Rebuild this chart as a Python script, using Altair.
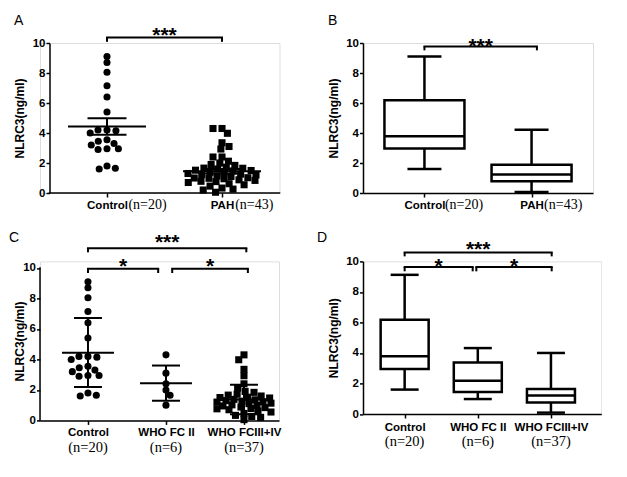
import math
import altair as alt
import pandas as pd

# ---------------- data ----------------
groups_ab = ["Control", "PAH"]
n_ab = ["(n=20)", "(n=43)"]
groups_cd = ["Control", "WHO FC II", "WHO FCIII+IV"]
n_cd = ["(n=20)", "(n=6)", "(n=37)"]

control_vals = [9.1, 8.7, 8.05, 7.15, 6.4, 5.4, 4.2, 4.15, 4.2, 4.0,
                3.55, 3.45, 3.2, 3.3, 2.95, 2.9, 2.95, 1.8, 1.6, 1.65]
fc2_vals = [4.3, 3.1, 2.4, 2.0, 1.65, 1.0]
fc34_vals = [4.3, 3.98, 3.35, 2.93, 2.4, 2.12, 1.9, 1.84, 1.72, 1.66, 1.6, 1.52,
             1.5, 1.47, 1.38, 1.35, 1.3, 1.26, 1.22, 1.2, 1.13, 1.1, 1.02, 0.98,
             0.95, 0.88, 0.84, 0.78, 0.76, 0.7, 0.62, 0.55, 0.46, 0.33, 0.26, 0.2, 0.05]
pah_vals = fc2_vals + fc34_vals

# panel A: mean +/- SEM
mean_a = [4.44, 1.45]
err_lo_a = [3.89, 1.30]
err_hi_a = [4.98, 1.60]
# panel C: mean +/- SD
mean_c = [4.44, 2.43, 1.37]
err_lo_c = [2.19, 1.29, 0.40]
err_hi_c = [6.72, 3.60, 2.34]

# panel B box plot (min, Q1, median, Q3, max)
b_min = [1.60, 0.07]
b_q1 = [2.96, 0.78]
b_med = [3.78, 1.24]
b_q3 = [6.18, 1.89]
b_max = [9.10, 4.22]
# panel D box plot
d_min = [1.60, 0.98, 0.09]
d_q1 = [2.95, 1.44, 0.76]
d_med = [3.78, 2.18, 1.22]
d_q3 = [6.18, 3.38, 1.64]
d_max = [9.12, 4.32, 4.00]

# significance brackets (group positions, bracket level in data units, label)
sig_a = {"x1": [1], "x2": [2], "level": [10.37], "foot": [10.08], "label": ["***"], "label_y": [10.09]}
sig_b = {"x1": [1], "x2": [2.05], "level": [9.77], "foot": [9.51], "label": ["***"], "label_y": [9.31]}
sig_c = {"x1": [1, 1, 2.08], "x2": [3.03, 1.9, 3.05], "level": [11.3, 9.95, 9.95],
         "foot": [11.03, 9.67, 9.67], "label": ["***", "*", "*"], "label_y": [11.25, 9.65, 9.65]}
sig_d = {"x1": [1, 1, 1.98], "x2": [3.01, 1.93, 3.01], "level": [10.59, 9.63, 9.63],
         "foot": [10.33, 9.35, 9.35], "label": ["***", "*", "*"], "label_y": [10.36, 9.21, 9.21]}

SANS = "Liberation Sans"
SERIF = "Liberation Serif"
BOLD_EM = {"C": .722, "o": .611, "n": .611, "t": .333, "r": .389, "l": .278,
           "P": .667, "A": .722, "H": .722, " ": .278}


def text_w(s, fs):
    return sum(BOLD_EM.get(c, 0.6) for c in s) * fs


def swarm(values, ppu, dxs, dys, maxw):
    """greedy beeswarm (px) with an elliptical collision zone and a maximum half width"""
    order = sorted(range(len(values)), key=lambda i: -values[i])
    placed = []
    out = [0.0] * len(values)
    for k, i in enumerate(order):
        y = values[i] * ppu
        near = [(py, px) for (py, px) in placed if abs(py - y) < dys]
        blocked = []
        for (py, px) in near:
            w = dxs * math.sqrt(1 - ((py - y) / dys) ** 2)
            blocked.append((px - w, px + w))
        cands = [0.0] + [a for a, b in blocked] + [b for a, b in blocked]
        sgn = 1 if k % 2 == 0 else -1
        cands.sort(key=lambda c: (round(abs(c), 6), -sgn * c))
        x = None
        for c in cands:
            if abs(c) <= maxw and all(not (a + 1e-6 < c < b - 1e-6) for a, b in blocked):
                x = c
                break
        if x is None:
            best, x = -1.0, 0.0
            steps = int(maxw * 2)
            for j in range(steps + 1):
                c = -maxw + j * (2 * maxw / steps)
                sc = min(math.hypot((c - px) / dxs, (py - y) / dys) for (py, px) in near)
                if sc > best + 1e-9:
                    best, x = sc, c
        placed.append((y, x))
        out[i] = x
    return out


def yaxis(h, tx, off, dom):
    return alt.Axis(values=[0, 2, 4, 6, 8, 10], format="d", title="NLRC3(ng/ml)",
                    titleFont=SANS, titleFontSize=12, titleFontWeight="bold", titleColor="black",
                    titleAngle=270, titleAlign="center", titleBaseline="middle",
                    titleX=tx, titleY=h / 2, offset=off, domain=dom,
                    labelFont=SANS, labelFontSize=11.5, labelFontWeight="bold", labelColor="black",
                    labelPadding=1, tickSize=3.5, tickWidth=1.5, tickColor="black",
                    domainWidth=1.5, domainColor="black", grid=False,
                    labelFlush=False, labelOverlap=False)


def xaxis(names, pad, dom):
    arr = "[" + ",".join("'" + n + "'" for n in names) + "]"
    return alt.Axis(values=list(range(1, len(names) + 1)), labelExpr=arr + "[datum.value - 1]",
                    title=None, labelFont=SANS, labelFontSize=11.5, labelFontWeight="bold",
                    labelColor="black", labelPadding=pad, labelAngle=0, domain=dom,
                    tickSize=4, tickWidth=1.5, tickColor="black",
                    domainWidth=1.5, domainColor="black", grid=False,
                    labelFlush=False, labelOverlap=False)


def panel(sp):
    W, H = sp["w"], sp["h"]
    names = sp["names"]
    ymax = sp.get("ymax", 10)
    xs = alt.Scale(domain=sp["xdom"], nice=False, zero=False)
    ys = alt.Scale(domain=[0, ymax], nice=False, zero=False)
    xline = sp.get("xline")      # x-axis line drawn as a rule between these x values
    yline = sp.get("yline")      # y-axis line drawn as a rule from 0 to 10
    xa = xaxis(names, sp["lpad"], xline is None)
    ya = yaxis(H, sp["tx"], sp.get("yoff", 0), yline is None)
    step = W / (sp["xdom"][1] - sp["xdom"][0])
    ppu = H / ymax

    def X(f):
        return alt.X(f, type="quantitative", scale=xs, axis=xa)

    def Y(f):
        return alt.Y(f, type="quantitative", scale=ys, axis=ya)

    layers = []
    if sp["kind"] == "scatter":
        rows = []
        for gi, (vals, g, mw) in enumerate(zip(sp["vals"], names, sp["maxw"])):
            offs = swarm(vals, ppu, 9.0, 6.0, mw)
            for v, o in zip(vals, offs):
                rows.append({"xp": gi + 1 + o / step, "v": v, "g": g})
        pts = pd.DataFrame(rows)
        layers.append(alt.Chart(pts).mark_point(filled=True, size=50, opacity=1, color="black",
                                                strokeWidth=0).encode(
            x=X("xp"), y=Y("v"),
            shape=alt.Shape("g:N", scale=alt.Scale(domain=names, range=sp["shapes"]), legend=None)))
        summ = pd.DataFrame({"idx": list(range(1, len(names) + 1)), "mean": sp["mean"],
                             "lo": sp["lo"], "hi": sp["hi"]})
        base = alt.Chart(summ)
        layers.append(base.mark_rule(strokeWidth=2, color="black").encode(
            x=X("idx"), y=Y("lo"), y2=alt.Y2("hi")))
        layers.append(base.mark_tick(orient="horizontal", size=sp["mean_w"], thickness=2,
                                     opacity=1, color="black").encode(x=X("idx"), y=Y("mean")))
        for f in ["lo", "hi"]:
            layers.append(base.mark_tick(orient="horizontal", size=sp["cap_w"], thickness=2,
                                         opacity=1, color="black").encode(x=X("idx"), y=Y(f)))
    else:
        st = pd.DataFrame({"idx": list(range(1, len(names) + 1)), "mn": sp["mn"], "q1": sp["q1"],
                           "med": sp["med"], "q3": sp["q3"], "mx": sp["mx"]})
        base = alt.Chart(st)
        sw = 2.5
        layers.append(base.mark_rule(strokeWidth=sw, color="black").encode(
            x=X("idx"), y=Y("mn"), y2=alt.Y2("mx")))
        layers.append(base.mark_bar(size=sp["box_w"], fill="white", stroke="black", strokeWidth=sw,
                                    orient="vertical").encode(x=X("idx"), y=Y("q1"), y2=alt.Y2("q3")))
        layers.append(base.mark_tick(orient="horizontal", size=sp["box_w"], thickness=sw,
                                     opacity=1, color="black").encode(x=X("idx"), y=Y("med")))
        for f in ["mn", "mx"]:
            layers.append(base.mark_tick(orient="horizontal", size=sp["cap_w"], thickness=sw,
                                         opacity=1, color="black").encode(x=X("idx"), y=Y(f)))

    # axis lines that stop at the reference extent
    if xline is not None:
        xl = pd.DataFrame({"a": [xline[0]], "b": [xline[1]], "y": [0]})
        layers.append(alt.Chart(xl).mark_rule(strokeWidth=1.5, color="black", strokeCap="square").encode(
            x=X("a"), x2=alt.X2("b"), y=Y("y")))
    if yline is not None:
        yl = pd.DataFrame({"x": [yline], "a": [0], "b": [10]})
        layers.append(alt.Chart(yl).mark_rule(strokeWidth=1.5, color="black", strokeCap="square").encode(
            x=X("x"), y=Y("a"), y2=alt.Y2("b")))

    # significance brackets
    br = pd.DataFrame(sp["sig"])
    br["mid"] = (br["x1"] + br["x2"]) / 2
    bb = alt.Chart(br)
    layers.append(bb.mark_rule(strokeWidth=2, color="black", strokeCap="square").encode(
        x=X("x1"), x2=alt.X2("x2"), y=Y("level")))
    layers.append(bb.mark_rule(strokeWidth=2, color="black").encode(
        x=X("x1"), y=Y("foot"), y2=alt.Y2("level")))
    layers.append(bb.mark_rule(strokeWidth=2, color="black").encode(
        x=X("x2"), y=Y("foot"), y2=alt.Y2("level")))
    layers.append(bb.mark_text(font=SANS, fontSize=21, fontWeight="bold", color="black",
                               align="center", baseline="alphabetic").encode(
        x=X("mid"), y=Y("label_y"), text="label:N"))

    # group sizes under the axis labels
    if sp["inline_n"]:
        lx = [i + 1 + (text_w(n, 11.5) / 2 + 1) / step for i, n in enumerate(names)]
        al = "left"
    else:
        lx = [i + 1 for i in range(len(names))]
        al = "center"
    nl = pd.DataFrame({"lx": lx, "lab": sp["ns"]})
    layers.append(alt.Chart(nl).mark_text(font=SERIF, fontSize=sp["nfs"], color="black",
                                          align=al, baseline="alphabetic").encode(
        x=X("lx"), y=alt.value(H + sp["noff"]), text="lab:N"))

    # panel letter
    lt = pd.DataFrame({"t": [sp["letter"]]})
    layers.append(alt.Chart(lt).mark_text(font=SANS, fontSize=14, color="black", align="left",
                                          baseline="alphabetic").encode(
        x=alt.value(sp["lx"]), y=alt.value(sp["ly"]), text="t:N"))

    return alt.layer(*layers).properties(width=W, height=H)


A = panel(dict(kind="scatter", w=239.5, h=150, xdom=[0.4174, 2.5], names=groups_ab, ns=n_ab,
               vals=[control_vals, pah_vals], shapes=["circle", "square"], maxw=[60, 34],
               mean=mean_a, lo=err_lo_a, hi=err_hi_a, mean_w=78, cap_w=39,
               sig=sig_a, inline_n=True, nfs=14, noff=15.8, lpad=2.7, tx=-30.5,
               yoff=-9.5, xline=[0.5, 2.5],
               letter="A", lx=-26, ly=-18.3))
B = panel(dict(kind="box", w=230, h=150, xdom=[0.473, 2.527], names=groups_ab, ns=n_ab,
               mn=b_min, q1=b_q1, med=b_med, q3=b_q3, mx=b_max, box_w=80, cap_w=34,
               sig=sig_b, inline_n=True, nfs=14, noff=15.8, lpad=2.7, tx=-30,
               letter="B", lx=-35, ly=-18.3))
C = panel(dict(kind="scatter", w=239, h=159, ymax=10.433, xdom=[0.385, 3.449], names=groups_cd,
               ns=n_cd, vals=[control_vals, fc2_vals, fc34_vals],
               shapes=["circle", "square", "triangle-up"], maxw=[30, 30, 27],
               mean=mean_c, lo=err_lo_c, hi=err_hi_c, mean_w=52, cap_w=28,
               sig=sig_c, inline_n=False, nfs=14.5, noff=31.7, lpad=2.3, tx=-21,
               yline=0.385,
               letter="C", lx=-31, ly=-19))
D = panel(dict(kind="box", w=238.3, h=152.6, xdom=[0.499, 3.62], names=groups_cd, ns=n_cd,
               mn=d_min, q1=d_q1, med=d_med, q3=d_q3, mx=d_max, box_w=48, cap_w=28,
               sig=sig_d, inline_n=False, nfs=14.5, noff=32, lpad=3.4, tx=-30,
               letter="D", lx=-46, ly=-19))

chart = alt.concat(A, B, C, D, columns=2, spacing={"row": 59.4, "column": 83},
                   bounds="flush", align="all").properties(
    padding={"left": 0, "top": 5, "right": 0, "bottom": 0}
).configure_view(stroke=None).configure(background="white")

chart.save("out.html", embed_options={"renderer": "svg", "actions": False})
